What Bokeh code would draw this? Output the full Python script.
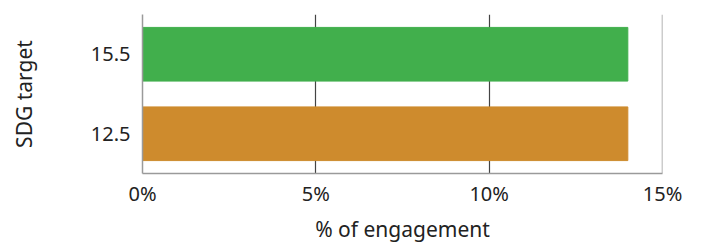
from bokeh.plotting import figure
from bokeh.models import FixedTicker, PrintfTickFormatter, Span, ColumnDataSource
from bokeh.embed import file_html
from bokeh.resources import INLINE

targets = ["12.5", "15.5"]
engagement = [14.0, 14.0]
colors = ["#CE8B2D", "#41AF4C"]
x_ticks = [0, 5, 10, 15]

src = ColumnDataSource(dict(t=targets, v=engagement, c=colors))

p = figure(y_range=targets, x_range=(0, 15),
           output_backend="svg", toolbar_location=None,
           min_border_left=142, min_border_top=14, min_border_right=30, min_border_bottom=10)
p.frame_width = 520
p.frame_height = 159
p.y_range.range_padding = 0

p.hbar(y="t", right="v", left=0, height=0.675, color="c", source=src)

FONT = "Noto Sans"
p.xaxis.ticker = FixedTicker(ticks=x_ticks)
p.xaxis.formatter = PrintfTickFormatter(format="%d%%")
p.xaxis.axis_label = "% of engagement"
p.yaxis.axis_label = "SDG target"
for ax in (p.xaxis[0], p.yaxis[0]):
    ax.major_tick_line_color = None
    ax.minor_tick_line_color = None
    ax.major_tick_out = 0
    ax.major_tick_in = 0
    ax.axis_line_color = "#9a9a9a"
    ax.axis_line_width = 1.5
    ax.major_label_text_font = FONT
    ax.major_label_text_font_size = "20px"
    ax.major_label_text_color = "#222222"
    ax.axis_label_text_font = FONT
    ax.axis_label_text_font_size = "21px"
    ax.axis_label_text_font_style = "normal"
    ax.axis_label_text_color = "#222222"
p.xaxis.major_label_standoff = 6
p.xaxis.axis_label_standoff = 5
p.yaxis.major_label_standoff = 12
p.yaxis.axis_label_standoff = 50

p.xgrid.ticker = FixedTicker(ticks=[5, 10])
p.xgrid.grid_line_color = "#444444"
p.xgrid.grid_line_width = 1.2
p.ygrid.grid_line_color = None
p.outline_line_color = None

p.add_layout(Span(location=x_ticks[-1], dimension="height", line_color="#9a9a9a", line_width=1.5))

open("out.html", "w").write(file_html(p, INLINE))
